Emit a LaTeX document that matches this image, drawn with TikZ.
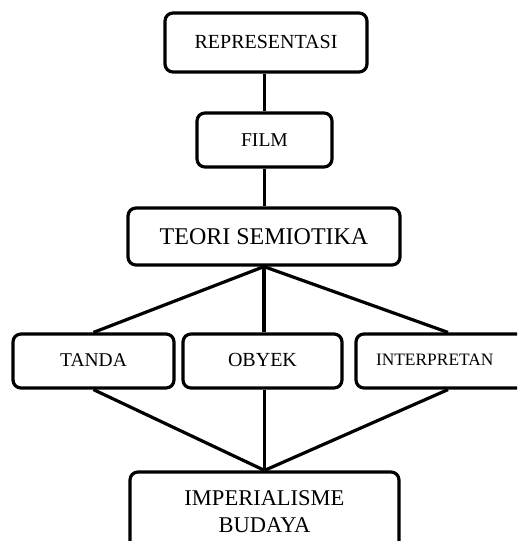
\documentclass[tikz,border=0pt]{standalone}
\usepackage{fontspec}
\setmainfont{Liberation Serif}
\begin{document}
\begin{tikzpicture}[x=1pt,y=-1pt,
  box/.style={draw=black, line width=3.2pt, rounded corners=8pt, align=center, inner sep=0pt, text=black},
  conn/.style={draw=black, line width=3.2pt}]
\useasboundingbox (0,0) rectangle (517,541);
\clip (0,0) rectangle (517,541);
\node[box, minimum width=202pt, minimum height=59pt, font=\fontsize{20}{24}\selectfont] (rep) at (266,42.5) {\raisebox{2pt}{REPRESENTASI}};
\node[box, minimum width=135pt, minimum height=54pt, font=\fontsize{19.6}{24}\selectfont] (film) at (264.5,140) {\raisebox{-3pt}{FILM}};
\node[box, minimum width=272pt, minimum height=57pt, font=\fontsize{24}{28}\selectfont] (teori) at (264,236.5) {TEORI SEMIOTIKA};
\node[box, minimum width=161pt, minimum height=54pt, font=\fontsize{19.5}{24}\selectfont] (tanda) at (93.5,361) {\raisebox{2.5pt}{TANDA}};
\node[box, minimum width=159pt, minimum height=54pt, font=\fontsize{20}{24}\selectfont] (obyek) at (262.5,361) {\raisebox{2.5pt}{OBYEK}};
\node[box, minimum width=184pt, minimum height=54pt, font=\fontsize{17.4}{22}\selectfont, text width=184pt, align=left] (interp) at (448,361) {\hspace{20pt}\raisebox{1.5pt}{INTERPRETAN}};
\node[box, minimum width=269pt, minimum height=79pt, font=\fontsize{22.5}{27}\selectfont] (imp) at (264.5,511.5) {IMPERIALISME\\BUDAYA};
\draw[conn] (rep.south -| film.north) -- (film.north);
\draw[conn] (film.south) -- (film.south |- teori.north);
\draw[conn] (teori.south) -- (tanda.north);
\draw[conn] (teori.south) -- (teori.south |- obyek.north);
\draw[conn] (teori.south) -- (interp.north);
\draw[conn] (tanda.south) -- (imp.north);
\draw[conn] (obyek.south -| imp.north) -- (imp.north);
\draw[conn] (interp.south) -- (imp.north);
\end{tikzpicture}
\end{document}
